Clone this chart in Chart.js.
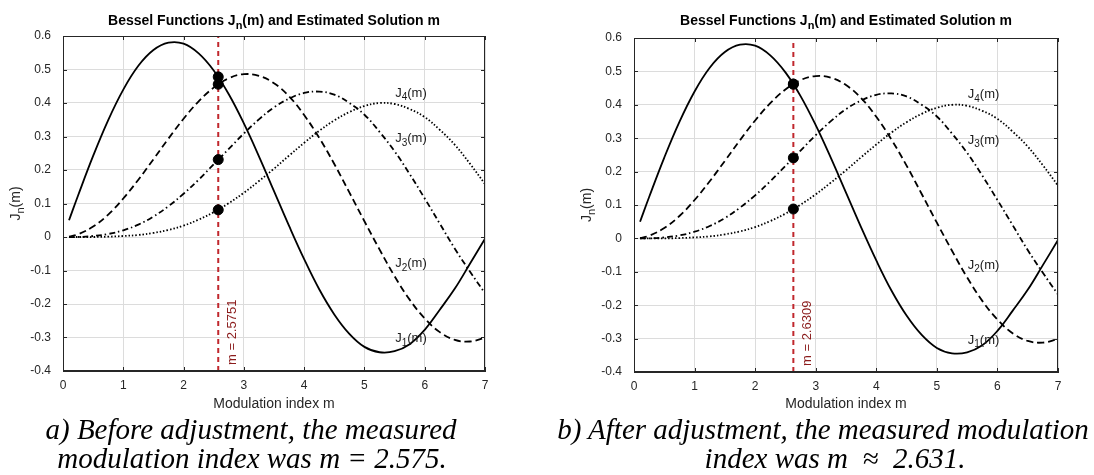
<!DOCTYPE html>
<html>
<head>
<meta charset="utf-8">
<script src="https://cdn.jsdelivr.net/npm/chart.js@4.4.0/dist/chart.umd.min.js"></script>
<style>
  html, body { margin: 0; padding: 0; background: #fff; }
  body { width: 1094px; height: 475px; position: relative; overflow: hidden; }
  .panel { position: absolute; top: 0; width: 547px; height: 420px; }
  .caption {
    position: absolute; width: 640px; text-align: center; white-space: nowrap;
    font-family: "Liberation Serif", "Times New Roman", serif; font-style: italic;
    font-size: 29px; line-height: 29px; color: #000;
  }
</style>
</head>
<body>
<div class="panel" style="left:0"><canvas id="chartBefore"></canvas></div>
<div class="panel" style="left:547px"><canvas id="chartAfter"></canvas></div>
<div class="caption" style="left:-69px; top:415px">a) Before adjustment, the measured</div>
<div class="caption" style="left:-68px; top:444px">modulation index was m = 2.575.</div>
<div class="caption" style="left:503px; top:415px">b) After adjustment, the measured modulation</div>
<div class="caption" style="left:515px; top:444px">index was m &nbsp;&asymp;&nbsp; 2.631.</div>

<script>
// sample points of the modulation index m
const xs = [0.1, 0.25, 0.5, 0.75, 1.0, 1.25, 1.5, 1.75, 2.0, 2.25, 2.5, 2.75, 3.0, 3.25, 3.5,
            3.75, 4.0, 4.25, 4.5, 4.75, 5.0, 5.25, 5.5, 5.75, 6.0, 6.25, 6.5, 6.75, 7.0];

// J1..J4
const j1 = [0.050, 0.124, 0.242, 0.349, 0.440, 0.511, 0.558, 0.580, 0.577, 0.548, 0.497, 0.426, 0.339, 0.241, 0.137,
            0.033, -0.066, -0.156, -0.231, -0.289, -0.328, -0.344, -0.341, -0.320, -0.277, -0.217, -0.154, -0.080, -0.005];
const j2 = [0.001, 0.008, 0.031, 0.067, 0.115, 0.171, 0.232, 0.294, 0.353, 0.405, 0.446, 0.474, 0.486, 0.481, 0.459,
            0.420, 0.364, 0.296, 0.218, 0.133, 0.047, -0.037, -0.117, -0.187, -0.243, -0.284, -0.307, -0.312, -0.301];
const j3 = [0.000, 0.000, 0.003, 0.009, 0.020, 0.037, 0.061, 0.092, 0.129, 0.171, 0.217, 0.263, 0.309, 0.351, 0.387,
            0.413, 0.430, 0.434, 0.425, 0.400, 0.365, 0.314, 0.256, 0.188, 0.115, 0.040, -0.035, -0.103, -0.168];
const j4 = [0.000, 0.000, 0.000, 0.001, 0.003, 0.006, 0.012, 0.021, 0.034, 0.052, 0.074, 0.101, 0.132, 0.167, 0.204,
            0.243, 0.281, 0.317, 0.348, 0.373, 0.391, 0.400, 0.397, 0.382, 0.358, 0.320, 0.275, 0.219, 0.158];

// estimated solutions and the J values marked there
const mBefore = 2.5751;
const valuesBefore = [0.478, 0.456, 0.231, 0.081];
const mAfter = 2.6309;
const valuesAfter = [0.462, 0.462, 0.241, 0.088];

const xTicks = [0, 1, 2, 3, 4, 5, 6, 7];
const yTicks = [-0.4, -0.3, -0.2, -0.1, 0, 0.1, 0.2, 0.3, 0.4, 0.5, 0.6];

const curveLabels = ['1', '2', '3', '4'];
const labelY = [-0.304, -0.08, 0.293, 0.43];
const labelX = 5.51;

const FONT = 'Arial, "Liberation Sans", sans-serif';
const AXIS_COLOR = '#262626';
const RED = '#c0272d';

function pts(ys) {
    return xs.map((x, i) => ({ x: x, y: ys[i] }));
}

// draw a run of text parts, some of them subscripts
function drawParts(ctx, parts, x, y, size, bold, align) {
    const mainFont = (bold ? 'bold ' : '') + size + 'px ' + FONT;
    const subFont = (bold ? 'bold ' : '') + Math.round(size * 0.75) + 'px ' + FONT;
    let total = 0;
    parts.forEach(p => {
        ctx.font = p.sub ? subFont : mainFont;
        total += ctx.measureText(p.t).width;
    });
    let cx = align === 'center' ? x - total / 2 : x;
    ctx.textAlign = 'left';
    ctx.textBaseline = 'middle';
    parts.forEach(p => {
        ctx.font = p.sub ? subFont : mainFont;
        ctx.fillText(p.t, cx, p.sub ? y + size * 0.32 : y);
        cx += ctx.measureText(p.t).width;
    });
}

const decorPlugin = {
    id: 'decor',
    afterDatasetsDraw(chart, args, opts) {
        const ctx = chart.ctx;
        const a = chart.chartArea;
        const xs_ = chart.scales.x;
        const ys_ = chart.scales.y;
        ctx.save();

        // box and inward ticks
        ctx.strokeStyle = AXIS_COLOR;
        ctx.lineWidth = 1;
        ctx.strokeRect(a.left + 0.5, a.top + 0.5, a.right - a.left - 1, a.bottom - a.top - 1);
        ctx.beginPath();
        xTicks.forEach(v => {
            const px = Math.round(xs_.getPixelForValue(v)) + 0.5;
            ctx.moveTo(px, a.bottom); ctx.lineTo(px, a.bottom - 4);
            ctx.moveTo(px, a.top); ctx.lineTo(px, a.top + 4);
        });
        yTicks.forEach(v => {
            const py = Math.round(ys_.getPixelForValue(v)) + 0.5;
            ctx.moveTo(a.left, py); ctx.lineTo(a.left + 4, py);
            ctx.moveTo(a.right, py); ctx.lineTo(a.right - 4, py);
        });
        ctx.stroke();

        // curve labels
        ctx.fillStyle = '#1a1a1a';
        curveLabels.forEach((n, i) => {
            drawParts(ctx, [{ t: 'J' }, { t: n, sub: true }, { t: '(m)' }],
                xs_.getPixelForValue(labelX), ys_.getPixelForValue(labelY[i]), 13, false, 'left');
        });

        // rotated label of the solution line
        ctx.save();
        ctx.translate(xs_.getPixelForValue(opts.m) + 14, a.bottom - 6);
        ctx.rotate(-Math.PI / 2);
        ctx.fillStyle = '#8b1c1c';
        ctx.font = '13px ' + FONT;
        ctx.textAlign = 'left';
        ctx.textBaseline = 'middle';
        ctx.fillText(opts.label, 0, 0);
        ctx.restore();

        // title
        const cx = (a.left + a.right) / 2;
        ctx.fillStyle = '#000';
        drawParts(ctx, [{ t: 'Bessel Functions J' }, { t: 'n', sub: true }, { t: '(m) and Estimated Solution m' }],
            cx, 21, 14, true, 'center');

        // axis titles
        ctx.fillStyle = AXIS_COLOR;
        ctx.font = '14px ' + FONT;
        ctx.textAlign = 'center';
        ctx.textBaseline = 'middle';
        ctx.fillText('Modulation index m', cx, 404);

        ctx.save();
        ctx.translate(a.left - 47, (a.top + a.bottom) / 2);
        ctx.rotate(-Math.PI / 2);
        drawParts(ctx, [{ t: 'J' }, { t: 'n', sub: true }, { t: '(m)' }], 0, 0, 14, false, 'center');
        ctx.restore();

        ctx.restore();
    }
};

function makeChart(id, m, values, label, geom) {
    const curveStyle = (data, dash) => ({
        data: pts(data), borderColor: '#000', borderWidth: 1.8, borderDash: dash,
        pointRadius: 0, tension: 0.4, fill: false, order: 3
    });
    new Chart(document.getElementById(id), {
        type: 'line',
        data: {
            datasets: [{
                data: values.map(v => ({ x: m, y: v })),
                showLine: false, pointRadius: 5, pointBackgroundColor: '#000',
                pointBorderColor: '#000', order: 1
            }, {
                data: [{ x: m, y: yTicks[0] }, { x: m, y: yTicks[yTicks.length - 1] }],
                borderColor: RED, borderWidth: 2, borderDash: [5, 4], pointRadius: 0, order: 2
            },
            curveStyle(j1, []),
            curveStyle(j2, [7, 4]),
            curveStyle(j3, [6, 3, 1.5, 3]),
            curveStyle(j4, [1.5, 2])
            ]
        },
        options: {
            responsive: true,
            maintainAspectRatio: false,
            animation: false,
            layout: { padding: { left: 0, right: geom.right, top: geom.top, bottom: geom.bottom } },
            plugins: {
                legend: { display: false },
                tooltip: { enabled: false },
                decor: { m: m, label: label }
            },
            scales: {
                x: {
                    type: 'linear', min: 0, max: 7,
                    afterFit: s => { s.height = 30; },
                    ticks: { stepSize: 1, padding: 7, maxRotation: 0, color: AXIS_COLOR, font: { family: FONT, size: 12 } },
                    grid: { color: '#dcdcdc', drawTicks: false },
                    border: { color: AXIS_COLOR }
                },
                y: {
                    type: 'linear', min: -0.4, max: 0.6,
                    afterFit: s => { s.width = geom.yWidth; },
                    ticks: {
                        stepSize: 0.1, padding: 12, color: AXIS_COLOR, font: { family: FONT, size: 12 },
                        callback: v => String(Math.round(v * 10) / 10)
                    },
                    grid: { color: '#dcdcdc', drawTicks: false },
                    border: { color: AXIS_COLOR }
                }
            }
        },
        plugins: [decorPlugin]
    });
}

makeChart('chartBefore', mBefore, valuesBefore, 'm = 2.5751', { yWidth: 63, right: 62, top: 36, bottom: 19 });
makeChart('chartAfter', mAfter, valuesAfter, 'm = 2.6309', { yWidth: 87, right: 36, top: 38, bottom: 18 });
</script>
</body>
</html>
